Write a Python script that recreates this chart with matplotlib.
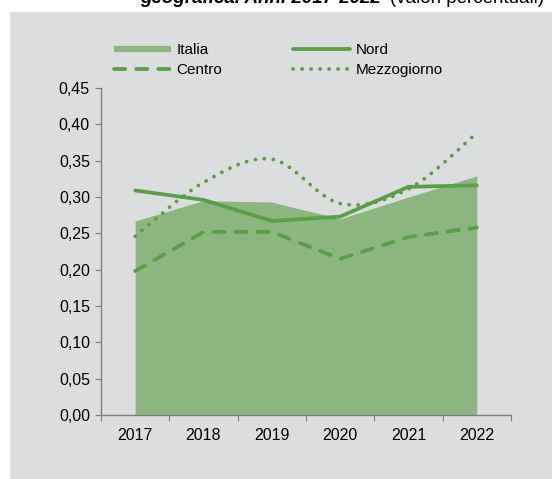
import matplotlib.pyplot as plt
import numpy as np
from matplotlib.lines import Line2D
from matplotlib.patches import Rectangle, PathPatch
from matplotlib.path import Path

plt.rcParams['font.family'] = ['Liberation Sans', 'DejaVu Sans']

years = ['2017', '2018', '2019', '2020', '2021', '2022']
italia = [0.267, 0.295, 0.293, 0.270, 0.300, 0.329]
nord = [0.309, 0.296, 0.267, 0.273, 0.314, 0.316]
centro = [0.198, 0.252, 0.252, 0.215, 0.245, 0.258]
mezzogiorno = [0.246, 0.320, 0.352, 0.291, 0.311, 0.388]

line_col = '#5a9f47'
area_col = '#8db57f'
bg_col = '#dcdddf'
axis_col = '#7f7f7f'
LW = 2.7
DASH = (3.0, 2.9)
DOT = (0, (0.05, 2.35))

fig = plt.figure(figsize=(5.52, 4.79), dpi=100)
fig.patch.set_facecolor('white')
fig.patches.append(Rectangle((10 / 552, 0), 1, 1 - 12 / 479, transform=fig.transFigure,
                             facecolor=bg_col, edgecolor='none', zorder=-5))

# title, cut off at the top edge as in the source
fig.text(140 / 552, 1 - 3 / 479, 'geografica. Anni 2017-2022', fontsize=13.5,
         fontweight='bold', fontstyle='italic', va='baseline', ha='left')
fig.text(390 / 552, 1 - 3 / 479, '(valori percentuali)', fontsize=13.5,
         va='baseline', ha='left')

ax = fig.add_axes([101 / 552, 1 - 415 / 479, 410 / 552, 327 / 479])
ax.set_facecolor('none')
x = np.arange(len(years))

ax.fill_between(x, 0, italia, color=area_col, linewidth=0, zorder=1)
ax.plot(x, nord, color=line_col, lw=LW, solid_capstyle='round', zorder=3)
ax.plot(x, centro, color=line_col, lw=LW, dashes=DASH, dash_capstyle='round', zorder=3)

# smoothed Mezzogiorno line (bezier through the data points)
pts = np.column_stack([x, mezzogiorno])
verts = [pts[0]]
codes = [Path.MOVETO]
for i in range(len(pts) - 1):
    p_prev = pts[i - 1] if i > 0 else pts[i]
    p_next2 = pts[i + 2] if i + 2 < len(pts) else pts[i + 1]
    c1 = pts[i] + (pts[i + 1] - p_prev) / 6
    c2 = pts[i + 1] - (p_next2 - pts[i]) / 6
    verts += [c1, c2, pts[i + 1]]
    codes += [Path.CURVE4] * 3
mz = PathPatch(Path(verts, codes), fill=False, edgecolor=line_col, lw=LW,
               linestyle=DOT, capstyle='round', zorder=3)
ax.add_patch(mz)

ax.set_xlim(-0.5, len(years) - 0.5)
ax.set_ylim(0, 0.45)
ax.set_yticks(np.arange(0, 0.451, 0.05))
ax.set_yticklabels([f'{v:.2f}'.replace('.', ',') for v in np.arange(0, 0.451, 0.05)])
ax.set_xticks(np.arange(-0.5, len(years), 1))
ax.set_xticklabels([])
ax.set_xticks(x, minor=True)
ax.set_xticklabels(years, minor=True)
ax.tick_params(axis='x', which='major', length=4, color=axis_col, direction='out')
ax.tick_params(axis='x', which='minor', length=0, pad=9, labelsize=11.5)
ax.tick_params(axis='y', length=4, color=axis_col, direction='out', labelsize=11.5, pad=4)
for s in ['top', 'right']:
    ax.spines[s].set_visible(False)
for s in ['left', 'bottom']:
    ax.spines[s].set_color(axis_col)
    ax.spines[s].set_linewidth(1)

handles = [
    Line2D([], [], color=area_col, lw=4.5, solid_capstyle='butt'),
    Line2D([], [], color=line_col, lw=LW, dashes=DASH, dash_capstyle='round'),
    Line2D([], [], color=line_col, lw=LW, solid_capstyle='round'),
    Line2D([], [], color=line_col, lw=LW, linestyle=DOT, dash_capstyle='round'),
]
labels = ['Italia', 'Centro', 'Nord', 'Mezzogiorno']
fig.legend(handles, labels, ncol=2, loc='upper left', bbox_to_anchor=(114 / 552, 1 - 43 / 479),
           frameon=False, fontsize=11, handlelength=3.7, handletextpad=0.4,
           columnspacing=4.65, labelspacing=0.4, borderpad=0, borderaxespad=0)

fig.savefig('out.png', dpi=100)
